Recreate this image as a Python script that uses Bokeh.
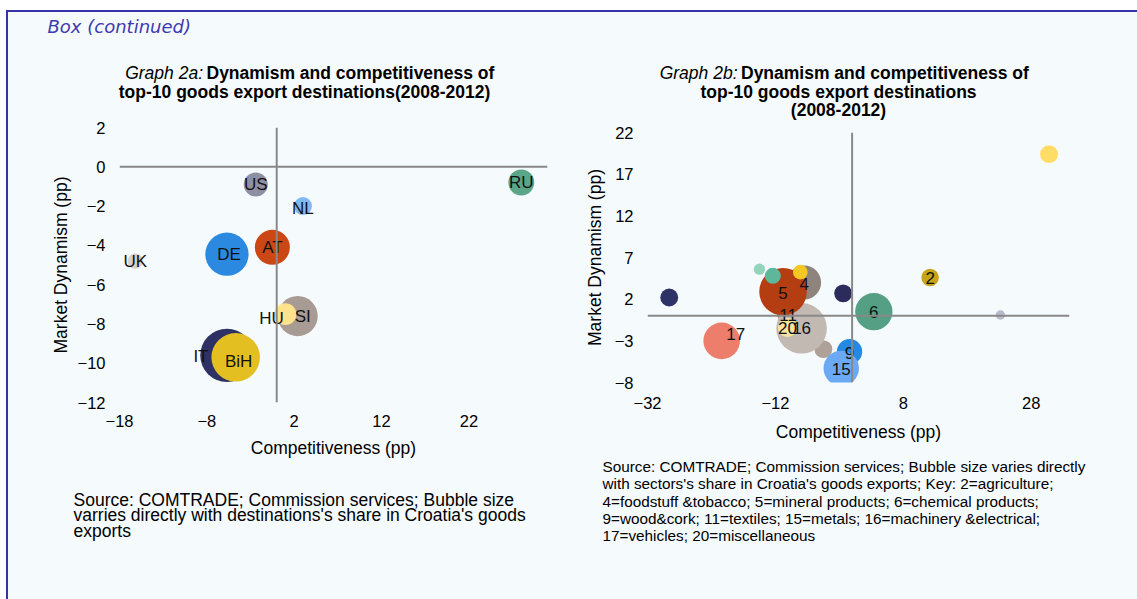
from bokeh.plotting import figure
from bokeh.models import Range1d, FixedTicker, Span, ColumnDataSource, Row, Column
from bokeh.embed import file_html
from bokeh.resources import INLINE
from bokeh.core.properties import value
import math

# ---------------- Graph 2a data (destinations) ----------------
dest_name = ["RU", "US", "NL", "AT", "DE", "UK", "IT", "BiH", "SI", "HU"]
dest_comp = [28.0, -2.4, 3.0, -0.5, -5.7, -16.2, -5.7, -4.7, 2.4, 1.0]
dest_dyn = [-0.8, -0.9, -2.0, -4.1, -4.45, -4.8, -9.6, -9.7, -7.6, -7.5]
dest_share = [3.5, 3.0, 1.7, 6.4, 9.8, 1.2, 14.9, 12.3, 8.4, 2.5]
dest_color = ["#5BA688", "#8F8FA3", "#80B8F2", "#CC4716", "#2B8AE0", "#D9D0CB",
              "#2E3164", "#E3BF22", "#A89B93", "#FFE38C"]
dest_label_dx = [0, 0, 0, 0, 2, 0, -26, 3, 5, -14]
dest_label_dy = [0, 0, 2, 0, 0, 0, 1, 4, 0, 4]
a_xticks = [-18, -8, 2, 12, 22]
a_yticks = [-12, -10, -8, -6, -4, -2, 0, 2]

# ---------------- Graph 2b data (sectors) ----------------
sec_label = ["", "11", "16", "20", "4", "5", "", "", "", "", "", "6", "2", "", "", "17", "9", "15"]
sec_comp = [-4.5, -10.0, -7.9, -10.1, -7.5, -10.8, -12.4, -14.5, -8.1, -28.6, -1.4,
            3.4, 12.2, 23.2, 30.8, -20.4, -0.4, -1.7]
sec_dyn = [-4.0, 0.3, -1.5, -1.4, 4.0, 2.9, 4.8, 5.6, 5.25, 2.2, 2.7,
           0.5, 4.6, 0.1, 19.4, -3.0, -4.3, -6.3]
sec_share = [2.5, 3.8, 20.0, 2.9, 9.0, 17.7, 2.0, 1.0, 1.7, 2.5, 2.5,
             10.9, 2.4, 0.7, 2.5, 10.5, 5.0, 9.8]
sec_color = ["#ADA199", "#E0561E", "#C3B9B3", "#FDE3A0", "#8E847D", "#B43E12",
             "#5CB898", "#94D4BA", "#F3C823", "#2D3366", "#2B2C5C", "#55A084",
             "#C9A318", "#BABACC", "#FFDC66", "#EC7E6B", "#2489E2", "#6CA9F5"]
sec_label_dx = [0, 0, 0, 0, 0, 0, 0, 0, 0, 0, 0, 0, 0, 0, 0, 14, 0, 0]
sec_label_dy = [0, 2, 0, 0, 1, 1, 0, 0, 0, 0, 0, 0, 0, 0, 0, -7, 1, 1]
b_xticks = [-32, -12, 8, 28]
b_yticks = [-8, -3, 2, 7, 12, 17, 22]

BG = "#F5FAFD"
FONT = "Liberation Sans"
AXIS_GREY = "#898989"


def chart_fig(width, height, xr, yr, bl, br, bt, bb, xt, yt):
    p = figure(width=width, height=height, x_range=Range1d(*xr), y_range=Range1d(*yr),
               output_backend="svg", toolbar_location=None,
               min_border_left=bl, min_border_right=br, min_border_top=bt, min_border_bottom=bb,
               background_fill_color=BG, border_fill_color=BG, outline_line_color=None)
    p.xgrid.visible = False
    p.ygrid.visible = False
    for ax in (p.xaxis[0], p.yaxis[0]):
        ax.axis_line_color = None
        ax.major_tick_line_color = None
        ax.minor_tick_line_color = None
        ax.major_tick_out = 0
        ax.major_tick_in = 0
        ax.major_label_text_font = FONT
        ax.major_label_text_font_size = "16.5px"
        ax.major_label_text_color = "#000000"
        ax.axis_label_text_font = FONT
        ax.axis_label_text_font_size = "17.5px"
        ax.axis_label_text_font_style = "normal"
        ax.axis_label_text_color = "#000000"
    p.xaxis.ticker = FixedTicker(ticks=xt)
    p.yaxis.ticker = FixedTicker(ticks=yt)
    p.xaxis.axis_label = "Competitiveness (pp)"
    p.yaxis.axis_label = "Market Dynamism (pp)"
    p.add_layout(Span(location=0, dimension="width", line_color=AXIS_GREY, line_width=2))
    p.add_layout(Span(location=0, dimension="height", line_color=AXIS_GREY, line_width=2))
    return p


def text_fig(w, h):
    p = figure(width=w, height=h, x_range=Range1d(0, w), y_range=Range1d(h, 0),
               x_axis_type=None, y_axis_type=None, output_backend="svg",
               toolbar_location=None, min_border=0, background_fill_color=BG,
               border_fill_color=BG, outline_line_color=None)
    return p


def put(p, x, y, text, size="17.5px", style="normal", align="left", color="#000000", font=FONT):
    p.text(x=[x], y=[y], text=[text], text_font=value(font), text_font_size=size,
           text_font_style=style, text_align=align, text_baseline="middle",
           text_color=color)


# page geometry: content starts at page (8, 12)
W1, W2 = 567, 562
X1, X2, Y0 = 8, 8 + W1, 12

# ---------------- left column ----------------
t1 = text_fig(W1, 100)
put(t1, 47 - X1, 26 - Y0, "Box (continued)", size="18px", style="italic",
    color="#3B3BB0", font="DejaVu Sans")
put(t1, 202.5 - X1, 72 - Y0, "Graph 2a:", style="italic", align="right")
put(t1, 206 - X1, 72 - Y0, "Dynamism and competitiveness of", style="bold")
put(t1, 304 - X1, 91 - Y0, "top-10 goods export destinations(2008-2012)",
    style="bold", align="center")

p1 = chart_fig(W1, 368, (-18, 31), (-12, 2), 111, W1 - 111 - 428, 15, 78, a_xticks, a_yticks)
p1.xaxis.major_label_standoff = 12
p1.yaxis.major_label_standoff = 14
p1.xaxis.axis_label_standoff = 8
p1.yaxis.axis_label_standoff = 4

src_a = ColumnDataSource(dict(
    x=dest_comp, y=dest_dyn, name=dest_name, color=dest_color,
    size=[13.84 * math.sqrt(s) for s in dest_share],
    dx=dest_label_dx, dy=dest_label_dy))
p1.scatter("x", "y", size="size", source=src_a, fill_color="color", line_color=None)
p1.text("x", "y", text="name", source=src_a, x_offset="dx", y_offset="dy",
        text_align="center", text_baseline="middle", text_font=value(FONT),
        text_font_size="17px", text_color="#111111")

s1 = text_fig(W1, 119)
src_lines_a = ["Source: COMTRADE; Commission services; Bubble size",
               "varries directly with destinations's share in Croatia's goods",
               "exports"]
for i, t in enumerate(src_lines_a):
    put(s1, 73 - X1, 499 + 15.7 * i - 480, t, size="17.5px")

col1 = Column(children=[Row(children=[t1]), p1, Row(children=[s1])], spacing=0)

# ---------------- right column ----------------
t2 = text_fig(W2, 110)
put(t2, 737 - X2, 72 - Y0, "Graph 2b:", style="italic", align="right")
put(t2, 740.5 - X2, 72 - Y0, "Dynamism and competitiveness of", style="bold")
put(t2, 838 - X2, 91 - Y0, "top-10 goods export destinations", style="bold", align="center")
put(t2, 838 - X2, 109 - Y0, "(2008-2012)", style="bold", align="center")

p2 = chart_fig(W2, 330, (-32, 34), (-8, 22), 72, W2 - 72 - 422, 10, 70, b_xticks, b_yticks)
p2.xaxis.major_label_standoff = 14
p2.yaxis.major_label_standoff = 14
p2.xaxis.axis_label_standoff = 10
p2.yaxis.axis_label_standoff = 7

src_b = ColumnDataSource(dict(
    x=sec_comp, y=sec_dyn, name=sec_label, color=sec_color,
    size=[11.31 * math.sqrt(s) for s in sec_share],
    dx=sec_label_dx, dy=sec_label_dy))
p2.scatter("x", "y", size="size", source=src_b, fill_color="color", line_color=None)
p2.text("x", "y", text="name", source=src_b, x_offset="dx", y_offset="dy",
        text_align="center", text_baseline="middle", text_font=value(FONT),
        text_font_size="17px", text_color="#111111")

s2 = text_fig(W2, 147)
src_lines_b = ["Source: COMTRADE; Commission services; Bubble size varies directly",
               "with sectors's share in Croatia's goods exports; Key: 2=agriculture;",
               "4=foodstuff &tobacco; 5=mineral products; 6=chemical products;",
               "9=wood&cork; 11=textiles; 15=metals; 16=machinery &electrical;",
               "17=vehicles; 20=miscellaneous"]
for i, t in enumerate(src_lines_b):
    put(s2, 602 - X2, 466 + 17.3 * i - 452, t, size="15.3px")

col2 = Column(children=[Row(children=[t2]), p2, Row(children=[s2])], spacing=0)

layout = Row(children=[col1, col2], spacing=0,
             styles={"border-top": "2px solid #3434A4", "border-left": "2px solid #3434A4",
                     "background-color": BG, "position": "relative",
                     "left": "6px", "top": "10px"})

open("out.html", "w").write(file_html(layout, INLINE))
